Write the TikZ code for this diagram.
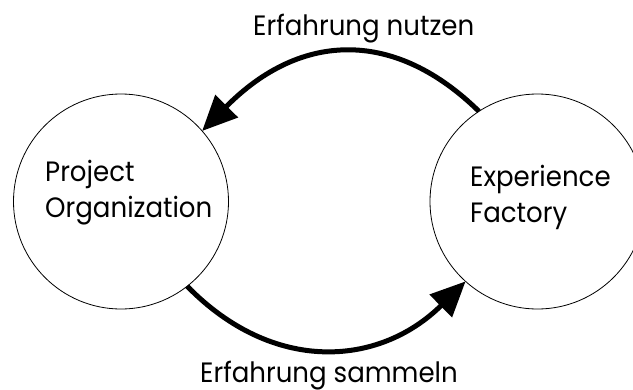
\documentclass[tikz,border=0pt]{standalone}
\usepackage{fontspec}
\setmainfont{Poppins}[FakeStretch=0.93]
\usetikzlibrary{arrows.meta}
\begin{document}
\begin{tikzpicture}[x=1pt,y=-1pt,
  party/.style={draw=black,line width=0.8pt,circle,minimum size=215pt,inner sep=0pt,outer sep=0pt},
  label/.style={font=\fontsize{28}{36}\selectfont,inner sep=0pt,anchor=base west,align=left},
  flow/.style={line width=5pt,-{Triangle[length=35pt,width=31pt]}}]
  \useasboundingbox (0,0) rectangle (633,389);
  \node[party] (po) at (121,201.5) {};
  \node[party] (ef) at (537.5,201.5) {};
  % multi-line labels: the base anchor sits on the last line
  \node[label] (potxt) at (45,217) {Project\\Organization};
  \node[label] (eftxt) at (470,222) {Experience\\Factory};
  \draw[flow] (ef.123.9) .. controls (396,30) and (302,30) .. (po.41.4);
  \draw[flow] (po.-52.7) .. controls (273,374) and (379,367) .. (ef.-132.4);
  \node[label] (use) at (253,35) {Erfahrung nutzen};
  \node[label] (gather) at (200,382) {Erfahrung sammeln};
\end{tikzpicture}
\end{document}
